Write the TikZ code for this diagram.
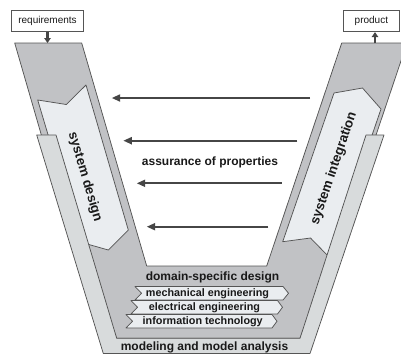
\documentclass[tikz,border=0pt]{standalone}
\usepackage{fontspec}
\setmainfont{Liberation Sans}
\usetikzlibrary{arrows.meta}
\definecolor{midgray}{RGB}{193,194,197}
\definecolor{lightband}{RGB}{216,219,220}
\definecolor{paleface}{RGB}{234,237,240}
\definecolor{edgegray}{RGB}{85,85,85}
\definecolor{arrowgray}{RGB}{70,70,70}
\definecolor{inkgray}{RGB}{25,25,25}
\begin{document}
\begin{tikzpicture}[x=1pt,y=-1pt,
  outlined/.style={draw=edgegray, line width=0.75pt, line join=round},
  assure/.style={draw=arrowgray, line width=2pt, -{Triangle[length=8.5pt,width=7pt]}},
  ioarrow/.style={draw=arrowgray, line width=2.2pt, -{Triangle[length=5pt,width=6.5pt]}},
  boxlabel/.style={draw=edgegray, fill=white, line width=0.8pt, inner sep=0pt, font=\fontsize{10}{12}\selectfont, text=inkgray},
  heading/.style={font=\bfseries\fontsize{12}{14}\selectfont, text=inkgray, anchor=base},
  chevtext/.style={font=\bfseries\fontsize{10.8}{13}\selectfont, text=inkgray, anchor=base},
  armtext/.style={font=\bfseries\fontsize{13.3}{15}\selectfont, text=inkgray}
]
\useasboundingbox (0,0) rectangle (401,354);

% medium gray V (system design / integration arms and domain-specific region)
\path[outlined, fill=midgray] (14.7,43) -- (81.7,43) -- (146.7,266) -- (266.7,266) -- (341.7,43) -- (407,43) -- (371,150) -- (300,338.3) -- (116.7,338.3) -- (45.7,150) -- cycle;

% pale arrows in the arms
\path[outlined, fill=paleface] (37.7,100) -- (66.3,104.5) -- (86,85) -- (128.3,230) -- (108.3,250) -- (80,242) -- cycle;
\path[outlined, fill=paleface] (334,93) -- (362.5,88) -- (381,109) -- (330,258) -- (310.5,238) -- (282.7,241.7) -- cycle;

% light outer band (modeling and model analysis)
\path[outlined, fill=lightband] (36.7,135) -- (103.3,353.5) -- (310,353.5) -- (384,135) -- (366,135) -- (300,338.3) -- (116.7,338.3) -- (56,135) -- cycle;

% domain chevrons
\path[outlined, fill=paleface] (135,286.5) -- (283,286.5) -- (288.5,293.25) -- (283,300) -- (135,300) -- (141.5,293.25) -- cycle;
\path[outlined, fill=paleface] (131,300.5) -- (277.5,300.5) -- (282.5,307.25) -- (277.5,314) -- (131,314) -- (137.5,307.25) -- cycle;
\path[outlined, fill=paleface] (126,314.5) -- (272,314.5) -- (277,321.25) -- (272,328) -- (126,328) -- (132.5,321.25) -- cycle;

% texts
\node[heading] (assur) at (210,165.5) {assurance of properties};
\node[heading] (dsd) at (212.5,280) {domain-specific design};
\node[chevtext] (mech) at (207.5,296) {mechanical engineering};
\node[chevtext] (elec) at (204.5,310) {electrical engineering};
\node[chevtext] (info) at (202.7,324.5) {information technology};
\node[heading] (mma) at (204.5,350) {modeling and model analysis};
\node[armtext, rotate=-73.6] (sd) at (85,177) {system design};
\node[armtext, rotate=71.1] (si) at (334,168.5) {system integration};

% assurance arrows
\coordinate (a1s) at (310,98);    \coordinate (a1e) at (111.7,98);
\coordinate (a2s) at (297.3,140.7); \coordinate (a2e) at (123.3,140.7);
\coordinate (a3s) at (281.7,183.3); \coordinate (a3e) at (136.7,183.3);
\coordinate (a4s) at (268.3,226.7); \coordinate (a4e) at (146.7,226.7);
\draw[assure] (a1s) -- (a1e);
\draw[assure] (a2s) -- (a2e);
\draw[assure] (a3s) -- (a3e);
\draw[assure] (a4s) -- (a4e);

% requirement and product boxes
\node[boxlabel, minimum width=71.6pt, minimum height=21.7pt] (req) at (47.5,20.85) {requirements};
\node[boxlabel, minimum width=56.2pt, minimum height=21pt] (prod) at (371.4,21.2) {product};
\coordinate (reqin) at (47.5,43);
\coordinate (prodout) at (375,43);
\draw[ioarrow] (req.south) -- (reqin);
\draw[ioarrow] (prodout) -- (prodout |- prod.south);
\end{tikzpicture}
\end{document}
